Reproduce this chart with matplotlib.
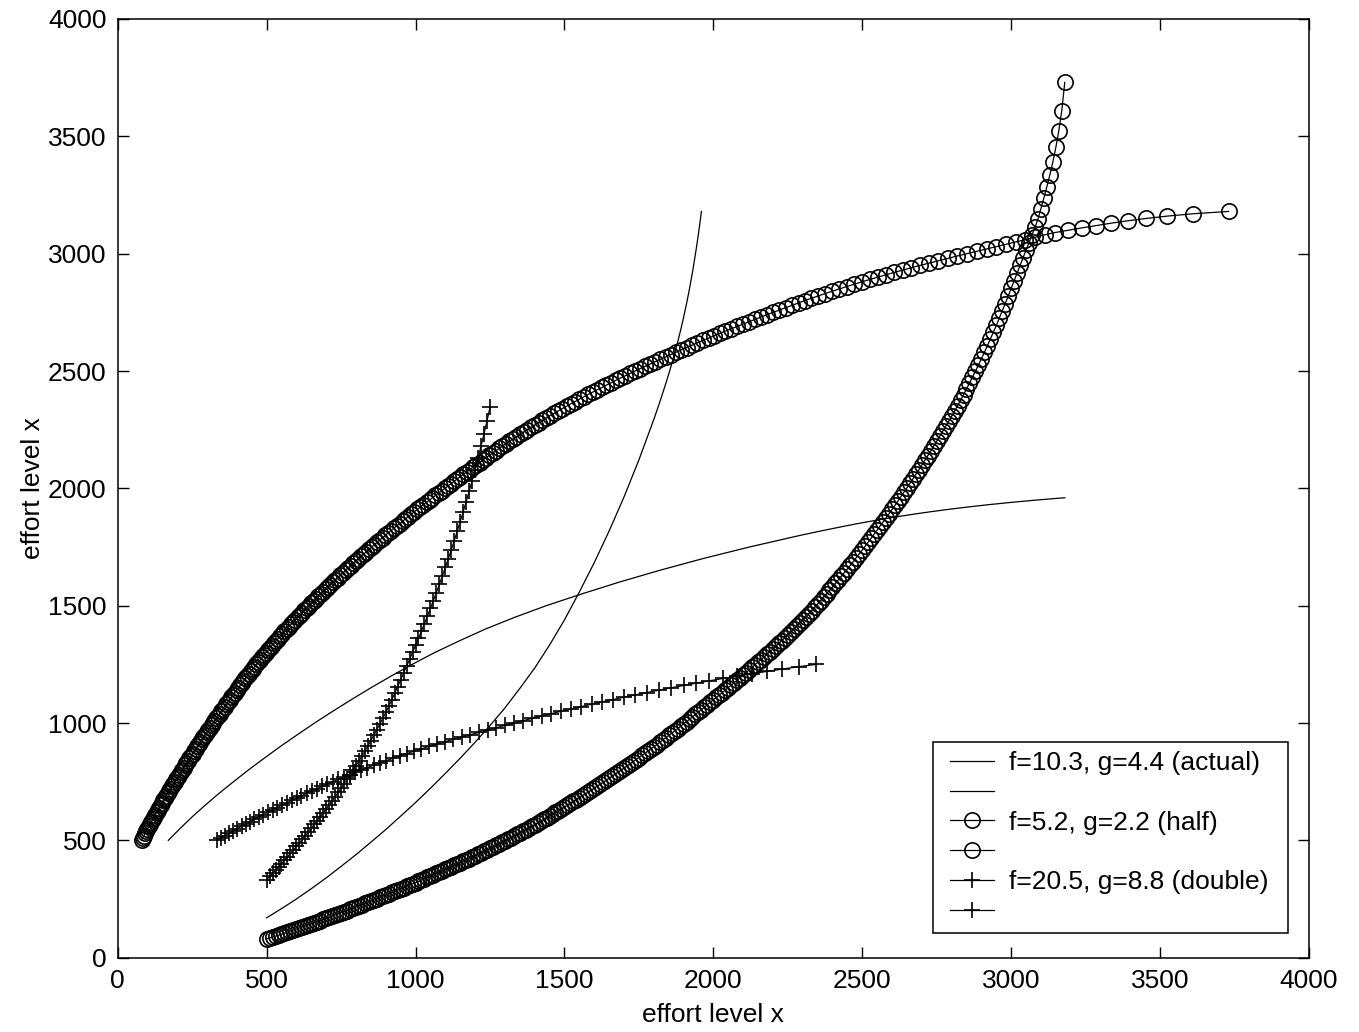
import matplotlib
matplotlib.use("Agg")
import matplotlib.pyplot as plt
from matplotlib.lines import Line2D
from matplotlib.legend_handler import HandlerLine2D

plt.rcParams['font.family'] = ['Liberation Sans', 'DejaVu Sans']

# "actual" f=10.3, g=4.4 : response of one player (value) to the other's effort (grid)
act_grid = [500, 550, 600, 650, 700, 750, 800, 850, 900, 950, 1000, 1050, 1100, 1150,
            1200, 1250, 1300, 1350, 1400, 1450, 1500, 1550, 1600, 1650, 1700, 1750, 1800,
            1810, 1820, 1830, 1840, 1850, 1860, 1870, 1880, 1890, 1900, 1910, 1920, 1930,
            1940, 1950, 1960]
act_val = [170, 209, 250, 294, 340, 389, 439, 492, 546, 603, 661, 722, 785, 850,
           918, 989, 1064, 1147, 1234, 1332, 1439, 1558, 1683, 1818, 1963, 2121, 2293,
           2330, 2367, 2406, 2445, 2486, 2529, 2574, 2622, 2673, 2728, 2787, 2851, 2921,
           2999, 3084, 3180]

# "half" f=5.2, g=2.2 : grid 500..3180 step 10
half_grid = list(range(500, 3181, 10))
half_val = [80, 84, 88, 92, 96, 100, 105, 109, 113, 118,
            122, 126, 131, 135, 140, 144, 149, 153, 158, 163,
            168, 172, 177, 182, 187, 192, 196, 201, 206, 211,
            216, 221, 226, 231, 236, 241, 247, 252, 257, 262,
            267, 272, 278, 283, 288, 293, 299, 304, 309, 315,
            320, 325, 331, 336, 342, 348, 353, 359, 364, 370,
            376, 381, 387, 393, 399, 405, 411, 416, 422, 428,
            435, 441, 447, 453, 459, 466, 472, 479, 485, 492,
            498, 505, 511, 518, 525, 532, 539, 546, 553, 560,
            567, 574, 582, 589, 597, 604, 612, 619, 627, 634,
            642, 650, 658, 666, 674, 682, 690, 698, 706, 714,
            723, 731, 739, 748, 756, 765, 773, 782, 791, 799,
            808, 817, 826, 835, 844, 853, 862, 871, 880, 890,
            899, 908, 918, 927, 937, 947, 957, 966, 976, 986,
            996, 1006, 1016, 1026, 1037, 1047, 1057, 1067, 1078, 1088,
            1099, 1109, 1119, 1130, 1140, 1151, 1161, 1172, 1182, 1193,
            1204, 1215, 1226, 1237, 1248, 1259, 1270, 1281, 1292, 1304,
            1315, 1327, 1339, 1351, 1363, 1375, 1388, 1400, 1413, 1426,
            1439, 1452, 1466, 1479, 1493, 1507, 1521, 1536, 1550, 1565,
            1580, 1595, 1610, 1626, 1641, 1657, 1672, 1688, 1705, 1721,
            1737, 1754, 1771, 1788, 1805, 1822, 1840, 1857, 1875, 1892,
            1910, 1928, 1946, 1965, 1984, 2002, 2021, 2040, 2060, 2079,
            2099, 2119, 2139, 2159, 2180, 2201, 2222, 2243, 2264, 2286,
            2307, 2329, 2352, 2375, 2399, 2423, 2448, 2473, 2499, 2525,
            2552, 2579, 2607, 2636, 2665, 2694, 2725, 2756, 2787, 2819,
            2852, 2885, 2918, 2950, 2983, 3015, 3047, 3079, 3112, 3147,
            3192, 3238, 3286, 3336, 3391, 3453, 3524, 3610, 3730]

# "double" f=20.5, g=8.8 : grid 500..1250 step 10
dbl_grid = list(range(500, 1251, 10))
dbl_val = [332, 346, 359, 373, 387, 401, 416, 430, 445, 459,
           474, 489, 505, 520, 536, 552, 568, 584, 601, 617,
           634, 651, 669, 686, 704, 722, 741, 760, 779, 798,
           818, 838, 859, 880, 902, 925, 948, 971, 995, 1020,
           1045, 1071, 1098, 1126, 1155, 1184, 1213, 1242, 1271, 1301,
           1331, 1361, 1392, 1424, 1456, 1489, 1522, 1556, 1591, 1626,
           1663, 1700, 1738, 1777, 1817, 1858, 1900, 1943, 1987, 2033,
           2080, 2129, 2180, 2232, 2287, 2345]

labels = ["f=10.3, g=4.4 (actual)", "", "f=5.2, g=2.2 (half)", "", "f=20.5, g=8.8 (double)", ""]

fig = plt.figure(figsize=(13.59, 10.32), dpi=100)
ax = fig.add_axes([0.0866, 0.072, 0.8766, 0.9096])
lw = 0.9
kw_o = dict(color='k', lw=lw, marker='o', ms=11, mfc='none', mec='k', mew=1.2)
kw_p = dict(color='k', lw=lw, marker='+', ms=11, mew=1.2)
h1, = ax.plot(act_val, act_grid, color='k', lw=lw)
h2, = ax.plot(act_grid, act_val, color='k', lw=lw)
h3, = ax.plot(half_val, half_grid, **kw_o)
h4, = ax.plot(half_grid, half_val, **kw_o)
h5, = ax.plot(dbl_val, dbl_grid, **kw_p)
h6, = ax.plot(dbl_grid, dbl_val, **kw_p)

ax.set_xlim(0, 4000)
ax.set_ylim(0, 4000)
ax.set_xticks(range(0, 4001, 500))
ax.set_yticks(range(0, 4001, 500))
ax.tick_params(direction='in', length=8, width=1.0, top=True, right=True, labelsize=19, pad=8)
for s in ax.spines.values():
    s.set_linewidth(1.1)
ax.set_xlabel("effort level x", fontsize=19, labelpad=7)
ax.set_ylabel("effort level x", fontsize=19, labelpad=2)
leg = ax.legend([h1, h2, h3, h4, h5, h6], labels, loc='lower left', fontsize=19,
                bbox_to_anchor=(0.6844, 0.026, 0.2982, 0.2), mode='expand', borderaxespad=0.0,
                fancybox=False, edgecolor='k', framealpha=1, handlelength=1.97,
                handletextpad=0.55, borderpad=0.35, labelspacing=0.22,
                handler_map={Line2D: HandlerLine2D(xpad=0.3)})
leg.get_frame().set_linewidth(1.1)
fig.savefig("out.png", dpi=100)
